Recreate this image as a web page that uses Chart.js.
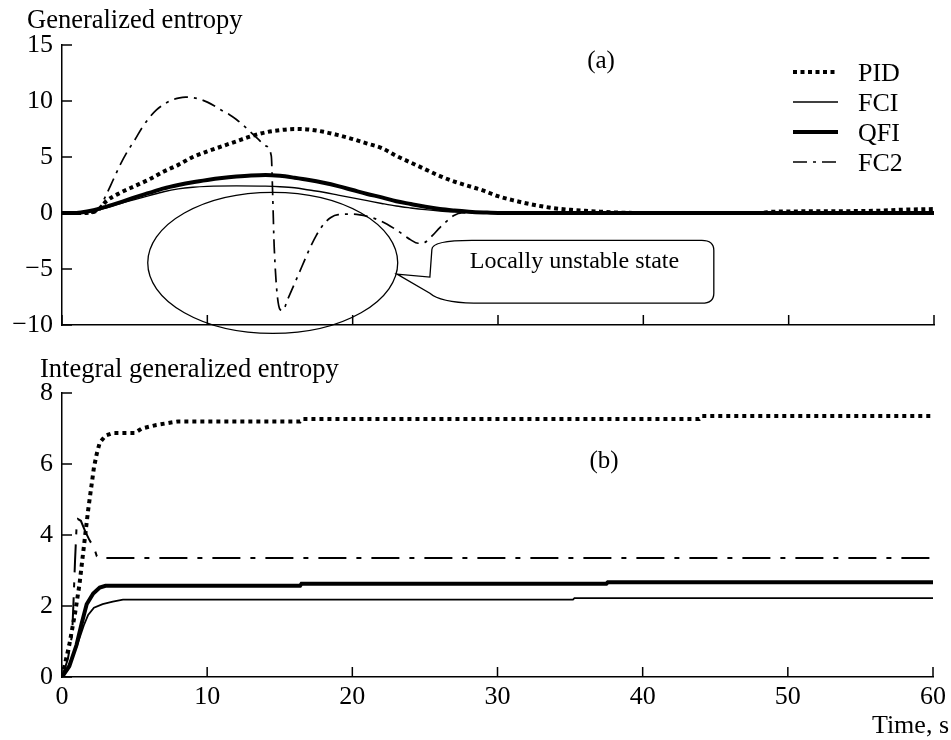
<!DOCTYPE html>
<html><head><meta charset="utf-8">
<script src="https://cdn.jsdelivr.net/npm/chart.js@4.4.0/dist/chart.umd.min.js"></script>
<style>
html,body{margin:0;padding:0;background:#fff;width:951px;height:740px;overflow:hidden}
#c1{position:absolute;left:0;top:0}
#c2{position:absolute;left:0;top:340px}
</style></head><body>
<canvas id="c1" width="951" height="340"></canvas>
<canvas id="c2" width="951" height="400"></canvas>
<script>
// ---------- DATA ----------
const seriesNames = ['PID', 'FCI', 'QFI', 'FC2'];
const xTicks = [0, 10, 20, 30, 40, 50, 60];
const yTicksA = [-10, -5, 0, 5, 10, 15];
const yTicksB = [0, 2, 4, 6, 8];

// (a) Generalized entropy
const pidTimeA = [0,1,2,2.6,3,4,5,6,7,8,9,10,11,12,13,14,15,16,17,18,19,20,21,22,23,24,25,26,27,28,29,30,31,32,33,34,35,36,37,38,40,48,49,52,56,58,60];
const pidValA  = [0,0,0.05,0.4,1.0,1.8,2.4,3.0,3.7,4.3,5.0,5.5,5.95,6.4,6.85,7.2,7.4,7.5,7.45,7.25,6.95,6.6,6.2,5.8,5.1,4.5,3.9,3.3,2.8,2.4,2.0,1.5,1.15,0.85,0.6,0.4,0.28,0.2,0.12,0.05,0,0,0.12,0.15,0.2,0.3,0.35];

const fciTimeA = [0,1,1.5,2,3,4,5,6,7,8,9,10,12,14,15,16,17,18,19,20,21,22,23,24,25,26,27,28,29,60];
const fciValA  = [0,0,0.05,0.15,0.45,0.85,1.2,1.55,1.9,2.15,2.3,2.38,2.42,2.4,2.35,2.25,2.05,1.85,1.6,1.35,1.1,0.85,0.62,0.45,0.3,0.18,0.1,0.04,0,0];

const qfiTimeA = [0,1,1.4,2,3,4,5,6,7,8,9,10,11,12,13,14,15,16,17,18,19,20,21,22,23,24,25,26,27,28,29,30,60];
const qfiValA  = [0,0,0.06,0.2,0.55,0.95,1.4,1.8,2.2,2.5,2.75,2.95,3.12,3.25,3.35,3.4,3.32,3.15,2.95,2.7,2.4,2.05,1.7,1.4,1.05,0.8,0.55,0.35,0.22,0.12,0.05,0,0];

const fc2TimeA = [0,2,2.5,3,3.5,4,4.5,5,5.5,6,6.5,7,7.5,8,8.5,9,9.5,10,10.5,11,11.5,12,12.5,13,13.5,14,14.4,14.5,14.6,15.0,15.2,15.5,16,16.5,17,17.5,18,18.5,19,20,21,22,23,24,24.5,25,25.5,26,26.5,27,27.5,60];
const fc2ValA  = [0,0,0.3,1.5,2.9,4.3,5.5,6.5,7.6,8.5,9.2,9.7,10.05,10.25,10.35,10.3,10.15,9.9,9.55,9.15,8.8,8.35,7.8,7.2,6.6,6.0,5.1,1.5,-3,-8.6,-8.7,-7.8,-6.3,-4.8,-3.3,-2.0,-1.0,-0.4,-0.15,-0.1,-0.3,-0.75,-1.5,-2.4,-2.7,-2.6,-2.0,-1.3,-0.7,-0.2,0,0];

// (b) Integral generalized entropy
const pidTimeB = [0,0.5,0.9,1.2,1.4,1.6,1.8,2.0,2.2,2.4,2.6,3.0,3.5,5.0,5.5,6.5,8.0,16.4,16.6,43.9,44.1,60];
const pidValB  = [0,0.9,1.8,2.6,3.3,4.0,4.7,5.3,5.9,6.3,6.6,6.8,6.87,6.87,7.0,7.1,7.2,7.2,7.27,7.27,7.35,7.35];

const fciTimeB = [0,0.5,1.0,1.5,1.8,2.2,2.8,3.5,4.2,35.2,35.3,60];
const fciValB  = [0,0.35,0.85,1.45,1.75,1.95,2.05,2.12,2.18,2.18,2.22,2.22];

const qfiTimeB = [0,0.5,1.0,1.35,1.7,2.15,2.6,3.0,16.4,16.5,37.5,37.6,60];
const qfiValB  = [0,0.3,0.9,1.5,2.05,2.35,2.52,2.57,2.57,2.63,2.63,2.67,2.67];

const fc2TimeB = [0,0.4,0.7,0.8,0.9,1.0,1.1,1.3,1.6,1.9,2.2,2.4,2.6,60];
const fc2ValB  = [0,0.5,1.2,2.2,3.3,4.2,4.45,4.4,4.1,3.85,3.65,3.4,3.35,3.35];

// ---------- helpers ----------
const zip = (t, v) => t.map((x, i) => ({x: x, y: v[i]}));
const FONT = 'Liberation Serif';
Chart.defaults.font.family = FONT;
Chart.defaults.color = '#000';

const stylesA = {
  PID: {borderWidth: 4, borderDash: [4, 3.5]},
  FCI: {borderWidth: 1.4, borderDash: []},
  QFI: {borderWidth: 4, borderDash: []},
  FC2: {borderWidth: 1.7, borderDash: [14, 6, 3, 6]}
};
const stylesB = {
  PID: {borderWidth: 4, borderDash: [4, 4]},
  FCI: {borderWidth: 1.8, borderDash: []},
  QFI: {borderWidth: 4, borderDash: []},
  FC2: {borderWidth: 2, borderDash: [28, 10, 5, 10]}
};

function makeDatasets(pairs, styles, smooth) {
  return seriesNames.map((name, i) => Object.assign({
    label: name,
    data: zip(pairs[i][0], pairs[i][1]),
    borderColor: '#000',
    backgroundColor: '#000',
    pointRadius: 0,
    fill: false,
    tension: 0,
    cubicInterpolationMode: smooth ? 'monotone' : 'default',
    borderCapStyle: 'butt'
  }, styles[name]));
}

const minusFmt = v => String(v).replace('-', '\u2212');

const inwardTicks = {
  id: 'inwardTicks',
  afterDraw(chart) {
    const {ctx, chartArea, scales} = chart;
    ctx.save();
    ctx.strokeStyle = '#000';
    ctx.lineWidth = 1.5;
    ctx.setLineDash([]);
    scales.x.ticks.forEach(t => {
      const px = scales.x.getPixelForValue(t.value);
      ctx.beginPath(); ctx.moveTo(px, chartArea.bottom); ctx.lineTo(px, chartArea.bottom - 10); ctx.stroke();
    });
    scales.y.ticks.forEach(t => {
      const py = scales.y.getPixelForValue(t.value);
      ctx.beginPath(); ctx.moveTo(chartArea.left, py); ctx.lineTo(chartArea.left + 10, py); ctx.stroke();
    });
    ctx.restore();
  }
};

function textPlugin(items) {
  return {
    id: 'texts' + Math.random().toString(36).slice(2),
    afterDraw(chart) {
      const ctx = chart.ctx;
      ctx.save();
      ctx.fillStyle = '#000';
      ctx.textBaseline = 'alphabetic';
      items.forEach(it => {
        ctx.font = it.size + 'px "' + FONT + '"';
        ctx.textAlign = it.align || 'left';
        ctx.fillText(it.text, it.x, it.y);
      });
      ctx.restore();
    }
  };
}

const legendPlugin = {
  id: 'customLegend',
  afterDraw(chart) {
    const ctx = chart.ctx;
    const x0 = 793, x1 = 838, tx = 858, y0 = 72, dy = 30;
    ctx.save();
    chart.data.datasets.forEach((ds, i) => {
      const y = y0 + i * dy;
      ctx.strokeStyle = '#000';
      ctx.lineWidth = ds.borderWidth;
      ctx.setLineDash(ds.borderDash || []);
      ctx.beginPath(); ctx.moveTo(x0, y); ctx.lineTo(x1, y); ctx.stroke();
      ctx.setLineDash([]);
      ctx.fillStyle = '#000';
      ctx.font = '26px "' + FONT + '"';
      ctx.textAlign = 'left';
      ctx.textBaseline = 'alphabetic';
      ctx.fillText(ds.label, tx, y + 8.5);
    });
    ctx.restore();
  }
};

// annotation geometry in data units
const ellipseA = {cx: 14.5, cy: -4.45, rx: 8.6, ry: 6.3};
const calloutA = {left: 25.45, right: 44.85, top: -2.45, bottom: -8.05, tipX: 23.05, tipY: -5.45, text: 'Locally unstable state'};

const annotationPlugin = {
  id: 'annot',
  afterDraw(chart) {
    const {ctx, scales} = chart;
    const X = v => scales.x.getPixelForValue(v), Y = v => scales.y.getPixelForValue(v);
    ctx.save();
    ctx.strokeStyle = '#000';
    ctx.lineWidth = 1.3;
    ctx.setLineDash([]);
    const cx = X(ellipseA.cx), cy = Y(ellipseA.cy);
    const rx = Math.abs(X(ellipseA.cx + ellipseA.rx) - cx), ry = Math.abs(Y(ellipseA.cy + ellipseA.ry) - cy);
    ctx.beginPath(); ctx.ellipse(cx, cy, rx, ry, 0, 0, Math.PI * 2); ctx.stroke();
    const L = X(calloutA.left), R = X(calloutA.right), T = Y(calloutA.top), B = Y(calloutA.bottom);
    const tx = X(calloutA.tipX), ty = Y(calloutA.tipY);
    ctx.beginPath();
    ctx.moveTo(L + 40, T);
    ctx.lineTo(R - 12, T);
    ctx.quadraticCurveTo(R, T, R, T + 10);
    ctx.lineTo(R, B - 10);
    ctx.quadraticCurveTo(R, B, R - 12, B);
    ctx.lineTo(L + 42, B);
    ctx.quadraticCurveTo(L + 8, B - 1, L - 2, B - 10);
    ctx.lineTo(tx, ty);
    ctx.lineTo(L - 2, ty + 3);
    ctx.lineTo(L, T + 9);
    ctx.quadraticCurveTo(L, T, L + 40, T);
    ctx.stroke();
    ctx.fillStyle = '#000';
    ctx.font = '24px "' + FONT + '"';
    ctx.textAlign = 'left';
    ctx.textBaseline = 'alphabetic';
    ctx.fillText(calloutA.text, L + 38, T + 28);
    ctx.restore();
  }
};

function axisCfg(extra) {
  return Object.assign({
    type: 'linear',
    grid: {display: false, drawTicks: false},
    border: {display: true, color: '#000', width: 1.5}
  }, extra);
}

// ---------- chart (a) ----------
new Chart(document.getElementById('c1'), {
  type: 'line',
  data: {datasets: makeDatasets([[pidTimeA, pidValA], [fciTimeA, fciValA], [qfiTimeA, qfiValA], [fc2TimeA, fc2ValA]], stylesA, true)},
  options: {
    responsive: false, animation: false,
    layout: {padding: {top: 45, right: 17, left: 0, bottom: 0}, autoPadding: false},
    plugins: {legend: {display: false}, tooltip: {enabled: false}, title: {display: false}},
    scales: {
      x: axisCfg({min: 0, max: 60, ticks: {display: false, stepSize: 10},
        afterBuildTicks: s => { s.ticks = xTicks.map(v => ({value: v})); },
        afterFit: s => { s.height = 15; s.paddingLeft = 0; s.paddingRight = 0; }}),
      y: axisCfg({min: -10, max: 15,
        ticks: {stepSize: 5, padding: 9, font: {size: 26}, color: '#000', callback: minusFmt},
        afterBuildTicks: s => { s.ticks = yTicksA.map(v => ({value: v})); },
        afterFit: s => { s.width = 62; s.paddingTop = 0; s.paddingBottom = 0; }})
    }
  },
  plugins: [inwardTicks, legendPlugin, annotationPlugin, textPlugin([
    {text: 'Generalized entropy', x: 27, y: 28, size: 26.5},
    {text: '(a)', x: 601, y: 68, size: 25, align: 'center'}
  ])]
});

// ---------- chart (b) ----------
new Chart(document.getElementById('c2'), {
  type: 'line',
  data: {datasets: makeDatasets([[pidTimeB, pidValB], [fciTimeB, fciValB], [qfiTimeB, qfiValB], [fc2TimeB, fc2ValB]], stylesB, false)},
  options: {
    responsive: false, animation: false,
    layout: {padding: {top: 53, right: 17, left: 0, bottom: 0}},
    plugins: {legend: {display: false}, tooltip: {enabled: false}, title: {display: false}},
    scales: {
      x: axisCfg({min: 0, max: 60,
        ticks: {stepSize: 10, padding: 5, font: {size: 26}, color: '#000', maxRotation: 0, autoSkip: false},
        afterBuildTicks: s => { s.ticks = xTicks.map(v => ({value: v})); },
        afterFit: s => { s.height = 63; }}),
      y: axisCfg({min: 0, max: 8,
        ticks: {stepSize: 2, padding: 9, font: {size: 26}, color: '#000', callback: minusFmt},
        afterBuildTicks: s => { s.ticks = yTicksB.map(v => ({value: v})); },
        afterFit: s => { s.width = 62; s.paddingTop = 0; s.paddingBottom = 0; }})
    }
  },
  plugins: [inwardTicks, textPlugin([
    {text: 'Integral generalized entropy', x: 40, y: 37, size: 26.5},
    {text: '(b)', x: 604, y: 128, size: 25, align: 'center'},
    {text: 'Time, s', x: 949, y: 393, size: 26, align: 'right'}
  ])]
});
</script></body></html>
